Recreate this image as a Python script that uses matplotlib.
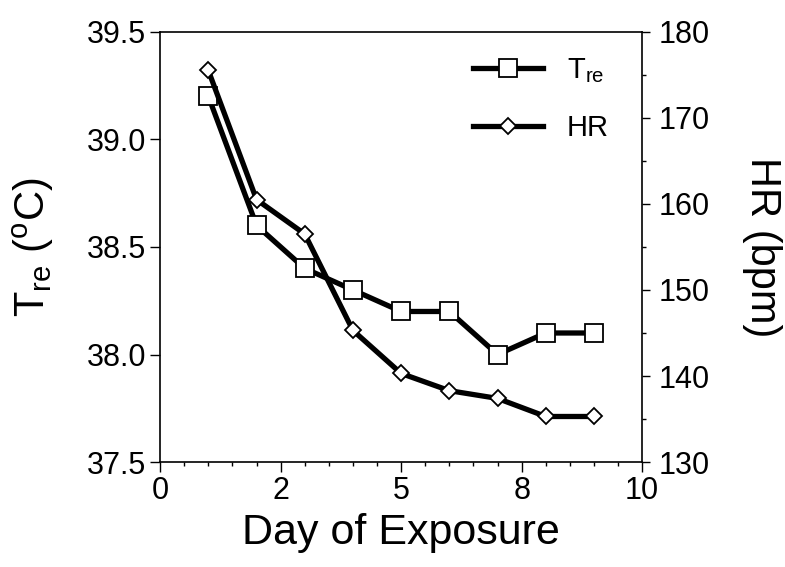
import matplotlib
matplotlib.use("Agg")
import matplotlib.pyplot as plt
from matplotlib.ticker import FixedLocator, MultipleLocator

plt.rcParams['font.family'] = ['Liberation Sans', 'DejaVu Sans']
plt.rcParams['mathtext.fontset'] = 'custom'
plt.rcParams['mathtext.rm'] = 'Liberation Sans'
plt.rcParams['mathtext.it'] = 'Liberation Sans'

# Data
days = [1, 2, 3, 4, 5, 6, 7, 8, 9]
tre = [39.2, 38.6, 38.4, 38.3, 38.2, 38.2, 38.0, 38.1, 38.1]
hr = [175.5, 160.5, 156.5, 145.3, 140.3, 138.3, 137.4, 135.3, 135.3]

x_ticks = [0, 2.5, 5, 7.5, 10]
x_tick_labels = ["0", "2", "5", "8", "10"]
left_ticks = [37.5, 38.0, 38.5, 39.0, 39.5]
right_ticks = [130, 140, 150, 160, 170, 180]

fig = plt.figure(figsize=(7.85, 5.67), dpi=100)
ax1 = fig.add_axes([0.204, 0.197, 0.614, 0.759])
ax2 = ax1.twinx()
ax2.set_position([0.204, 0.185, 0.614, 0.759])

# Tre series
l1, = ax1.plot(days, tre, color='black', linewidth=3.8, marker='s',
               markersize=12.5, markerfacecolor='white', markeredgecolor='black',
               markeredgewidth=1.3, label=r'T$_{\rm re}$', zorder=3)
# HR series
l2, = ax2.plot(days, hr, color='black', linewidth=3.8, marker='D',
               markersize=8.5, markerfacecolor='white', markeredgecolor='black',
               markeredgewidth=1.3, label='HR', zorder=3)

ax1.set_xlim(0, 10)
ax1.set_ylim(37.5, 39.5)
ax2.set_ylim(130, 180)

ax1.xaxis.set_major_locator(FixedLocator(x_ticks))
ax1.set_xticklabels(x_tick_labels)
ax1.xaxis.set_minor_locator(MultipleLocator(0.5))
ax1.set_yticks(left_ticks)
ax1.set_yticklabels([f"{v:.1f}" for v in left_ticks])
ax2.set_yticks(right_ticks)
ax2.yaxis.set_minor_locator(MultipleLocator(5))

ax1.tick_params(axis='both', which='major', labelsize=22, direction='out',
                length=7, width=1, pad=3)
ax1.tick_params(axis='x', which='minor', direction='out', length=3, width=1)
ax2.tick_params(axis='y', which='major', labelsize=22, direction='out',
                length=6, width=1, pad=6)
ax2.tick_params(axis='y', which='minor', direction='out', length=3, width=1)

for s in ['top', 'left', 'bottom']:
    ax2.spines[s].set_visible(False)
ax1.spines['right'].set_visible(False)
for sp in list(ax1.spines.values()) + list(ax2.spines.values()):
    sp.set_linewidth(1.2)

ax1.set_xlabel("Day of Exposure", fontsize=31, labelpad=5)
ax1.set_ylabel(r"T$_{\rm re}$ ($^{\rm o}$C)", fontsize=30, labelpad=22)
ax2.set_ylabel("HR (bpm)", fontsize=30, rotation=270, labelpad=52)

leg = ax1.legend(handles=[l1, l2], loc='upper right', frameon=False,
                 fontsize=21, handlelength=2.4, handletextpad=0.8,
                 labelspacing=1.0, borderaxespad=0.0,
                 bbox_to_anchor=(0.955, 0.97))

plt.savefig("out.png", dpi=100)
